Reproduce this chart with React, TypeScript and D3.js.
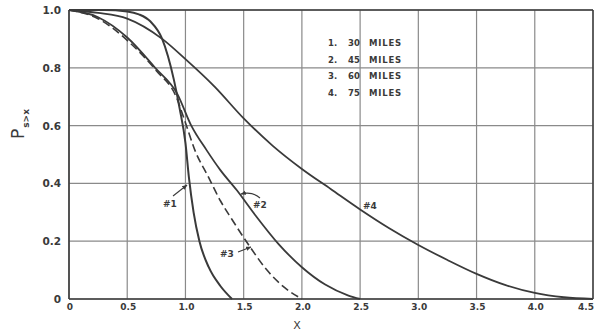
import React from "react";
import * as d3 from "d3";

const xTicks = [0, 0.5, 1.0, 1.5, 2.0, 2.5, 3.0, 3.5, 4.0, 4.5];
const xTickLabels = ["0", "0.5", "1.0", "1.5", "2.0", "2.5", "3.0", "3.5", "4.0", "4.5"];
const yTicks = [0, 0.2, 0.4, 0.6, 0.8, 1.0];
const yTickLabels = ["0", "0.2", "0.4", "0.6", "0.8", "1.0"];

const legendNums = ["1.", "2.", "3.", "4."];
const legendDist = ["30", "45", "60", "75"];

// curve 1 : 30 miles
const c1x = [0, 0.3, 0.5, 0.6, 0.7, 0.8, 0.85, 0.9, 0.95, 1.0, 1.03, 1.07, 1.12, 1.2, 1.3, 1.4];
const c1y = [1, 1.0, 0.995, 0.985, 0.96, 0.9, 0.84, 0.76, 0.66, 0.54, 0.42, 0.3, 0.2, 0.11, 0.045, 0];
// curve 2 : 45 miles
const c2x = [0, 0.25, 0.5, 0.74, 0.93, 1.05, 1.18, 1.3, 1.44, 1.6, 1.8, 2.0, 2.2, 2.4, 2.5];
const c2y = [1, 0.975, 0.905, 0.8, 0.71, 0.6, 0.516, 0.446, 0.377, 0.29, 0.19, 0.11, 0.05, 0.012, 0];
// curve 3 : 60 miles (dashed)
const c3x = [0, 0.25, 0.5, 0.75, 0.92, 1.0, 1.08, 1.2, 1.3, 1.4, 1.555, 1.7, 1.85, 2.0];
const c3y = [1, 0.97, 0.895, 0.79, 0.7, 0.61, 0.516, 0.42, 0.34, 0.275, 0.18, 0.1, 0.04, 0];
// curve 4 : 75 miles
const c4x = [0, 0.25, 0.5, 0.8, 1.0, 1.25, 1.5, 1.75, 2.0, 2.25, 2.5, 2.75, 3.0, 3.25, 3.5, 3.75, 4.0, 4.25, 4.5];
const c4y = [1, 0.99, 0.97, 0.9, 0.83, 0.735, 0.625, 0.53, 0.45, 0.38, 0.31, 0.245, 0.187, 0.135, 0.087, 0.048, 0.021, 0.006, 0];

const W = 595;
const H = 336;
const INK = "#3a3a3a";
const GRID = "#8a8a8a";
const FONT = "'DejaVu Sans', sans-serif";

export default function App() {
  const x = d3.scaleLinear().domain([0, 4.5]).range([69, 593]);
  const y = d3.scaleLinear().domain([0, 1]).range([299, 10]);
  const line = d3
    .line<[number, number]>()
    .x((d) => x(d[0]))
    .y((d) => y(d[1]))
    .curve(d3.curveMonotoneX);
  const pts = (xs: number[], ys: number[]) => xs.map((v, i) => [v, ys[i]] as [number, number]);

  return (
    <svg
      width={W}
      height={H}
      style={{ position: "absolute", left: 0, top: 0, background: "#fff" }}
      fontFamily={FONT}
    >
      <defs>
        <marker id="ah" viewBox="0 0 10 10" refX="9" refY="5" markerWidth="5" markerHeight="5" orient="auto">
          <path d="M0,1 L10,5 L0,9 z" fill={INK} />
        </marker>
      </defs>
      <rect x={0} y={0} width={W} height={H} fill="#fff" />
      {/* grid */}
      {xTicks.map((t, i) => (
        <line key={"gx" + i} x1={x(t)} x2={x(t)} y1={y(0)} y2={y(1)} stroke={GRID} strokeWidth={1.2} />
      ))}
      {yTicks.map((t, i) => (
        <line key={"gy" + i} x1={x(0)} x2={x(4.5)} y1={y(t)} y2={y(t)} stroke={GRID} strokeWidth={1.2} />
      ))}
      {/* frame */}
      <line x1={x(0)} x2={x(0)} y1={y(0)} y2={y(1)} stroke={INK} strokeWidth={1.6} />
      <line x1={x(0)} x2={x(4.5)} y1={y(0)} y2={y(0)} stroke={INK} strokeWidth={1.6} />
      <line x1={x(0)} x2={x(4.5)} y1={y(1)} y2={y(1)} stroke={INK} strokeWidth={1.6} />
      <line x1={x(4.5)} x2={x(4.5)} y1={y(0)} y2={y(1)} stroke={INK} strokeWidth={1.4} />
      {/* y tick labels */}
      {yTicks.map((t, i) => (
        <text key={"ty" + i} x={61} y={y(t) + 4} textAnchor="end" fontSize={10.5} fontWeight="bold" fill={INK}>
          {yTickLabels[i]}
        </text>
      ))}
      {/* x tick labels */}
      {xTicks.map((t, i) => {
        const last = i === xTicks.length - 1;
        return (
          <text
            key={"tx" + i}
            x={last ? 594 : x(t) + 1}
            y={310}
            textAnchor={last ? "end" : "middle"}
            fontSize={9}
            fontWeight="bold"
            fill={INK}
          >
            {xTickLabels[i]}
          </text>
        );
      })}
      {/* axis titles */}
      <text x={297} y={329} textAnchor="middle" fontSize={11} fill={INK}>
        X
      </text>
      <text transform="translate(24,139) rotate(-90)" fontSize={17} fill={INK}>
        P
        <tspan fontSize={9} fontWeight="bold" dy={5} dx={1}>
          s&gt;x
        </tspan>
      </text>
      {/* curves */}
      <path d={line(pts(c4x, c4y)) || ""} fill="none" stroke={INK} strokeWidth={1.8} />
      <path d={line(pts(c2x, c2y)) || ""} fill="none" stroke={INK} strokeWidth={1.8} />
      <path d={line(pts(c3x, c3y)) || ""} fill="none" stroke={INK} strokeWidth={1.6} strokeDasharray="8 4" />
      <path d={line(pts(c1x, c1y)) || ""} fill="none" stroke={INK} strokeWidth={2} />
      {/* legend */}
      {legendNums.map((n, i) => (
        <g key={"lg" + i} fontSize={8.5} fontWeight="bold" fill={INK}>
          <text x={328} y={46 + i * 16.5}>{n}</text>
          <text x={348} y={46 + i * 16.5}>{legendDist[i]}</text>
          <text x={369} y={46 + i * 16.5} letterSpacing={0.8}>MILES</text>
        </g>
      ))}
      {/* curve labels */}
      <text x={163} y={207} fontSize={9} fontWeight="bold" fill={INK}>#1</text>
      <text x={253} y={208} fontSize={9} fontWeight="bold" fill={INK}>#2</text>
      <text x={220} y={257} fontSize={9} fontWeight="bold" fill={INK}>#3</text>
      <text x={363} y={209} fontSize={9} fontWeight="bold" fill={INK}>#4</text>
      {/* arrows */}
      <line x1={173} y1={196} x2={187} y2={185} stroke={INK} strokeWidth={1.1} markerEnd="url(#ah)" />
      <path d="M260,198 Q252,191 241,194" fill="none" stroke={INK} strokeWidth={1.1} markerEnd="url(#ah)" />
      <line x1={238} y1={252} x2={251} y2={247} stroke={INK} strokeWidth={1.1} markerEnd="url(#ah)" />
    </svg>
  );
}
